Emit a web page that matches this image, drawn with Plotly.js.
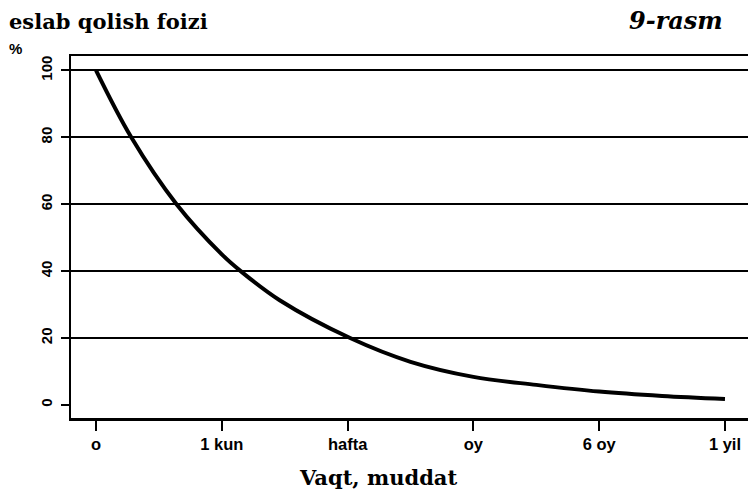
<!DOCTYPE html>
<html>
<head>
<meta charset="utf-8">
<script src="https://cdn.plot.ly/plotly-3.0.1.min.js"></script>
<style>html,body{margin:0;padding:0;background:#fff;}#chart{width:748px;height:491px;}</style>
</head>
<body>
<div id="chart"></div>
<script>
// Curve samples (x = position on the time scale, 0..5)
const curveX = [0, 0.28, 0.64, 1.0, 1.15, 1.46, 2.02, 2.5, 3.0, 3.5, 4.0, 4.5, 5.0];
const curveY = [100, 80, 60, 45, 40, 31.3, 20, 12.9, 8.4, 6.0, 4.0, 2.7, 1.8];
const xTickVals = [0, 1, 2, 3, 4, 5];
const xTickText = ['o', '1 kun', 'hafta', 'oy', '6 oy', '1 yil'];
const yTickVals = [0, 20, 40, 60, 80, 100];
const yTickText = ['0', '20', '40', '60', '80', '100'];

const L = 71, R = 748, T = 56, B = 418;
const px = v => (v - L) / (R - L);
const py = v => (B - v) / (B - T);

const trace = {
  x: curveX, y: curveY, type: 'scatter', mode: 'lines',
  line: {color: '#000', width: 4, shape: 'spline', smoothing: 1.0},
  hoverinfo: 'skip', showlegend: false
};

const layout = {
  width: 748, height: 491,
  margin: {l: L, r: 748 - R, t: T, b: 491 - B, pad: 0},
  paper_bgcolor: '#fff', plot_bgcolor: '#fff',
  showlegend: false,
  xaxis: {
    range: [-0.199, 5.183], tickmode: 'array', tickvals: xTickVals, ticktext: xTickText,
    showgrid: false, zeroline: false, showline: true, mirror: true,
    linecolor: '#000', linewidth: 2.5,
    ticks: 'outside', ticklen: 10, tickwidth: 2, tickcolor: '#000',
    tickfont: {family: 'Liberation Sans, Arial, sans-serif', size: 16.5, color: '#000', weight: 'bold'},
    ticklabelstandoff: 0,
    fixedrange: true
  },
  yaxis: {
    range: [-3.9, 104.3], tickmode: 'array', tickvals: yTickVals, ticktext: yTickText,
    showgrid: true, gridcolor: '#000', gridwidth: 2,
    zeroline: true, zerolinecolor: 'rgba(0,0,0,0)', zerolinewidth: 0.01,
    showline: true, mirror: false, linecolor: '#000', linewidth: 2.5,
    ticks: 'outside', ticklen: 8, tickwidth: 2, tickcolor: '#000',
    tickangle: -90,
    tickfont: {family: 'Liberation Sans, Arial, sans-serif', size: 15, color: '#000', weight: 'bold'},
    ticklabelstandoff: 3,
    fixedrange: true
  },
  annotations: [
    {text: 'eslab qolish foizi', xref: 'paper', yref: 'paper', x: px(7), y: py(22),
     xanchor: 'left', yanchor: 'middle', showarrow: false,
     font: {family: 'DejaVu Serif, serif', size: 21, color: '#000', weight: 'bold'}},
    {text: '<i>9-rasm</i>', xref: 'paper', yref: 'paper', x: px(725), y: py(21),
     xanchor: 'right', yanchor: 'middle', showarrow: false,
     font: {family: 'DejaVu Serif, serif', size: 24, color: '#000', weight: 'bold'}},
    {text: '%', xref: 'paper', yref: 'paper', x: px(15), y: py(48),
     xanchor: 'center', yanchor: 'middle', showarrow: false,
     font: {family: 'Liberation Sans, Arial, sans-serif', size: 15, color: '#000', weight: 'bold'}},
    {text: 'Vaqt, muddat', xref: 'paper', yref: 'paper', x: px(378), y: py(477),
     xanchor: 'center', yanchor: 'middle', showarrow: false,
     font: {family: 'DejaVu Serif, serif', size: 21, color: '#000', weight: 'bold'}}
  ]
};

Plotly.newPlot('chart', [trace], layout, {displayModeBar: false, staticPlot: true});
</script>
</body>
</html>
